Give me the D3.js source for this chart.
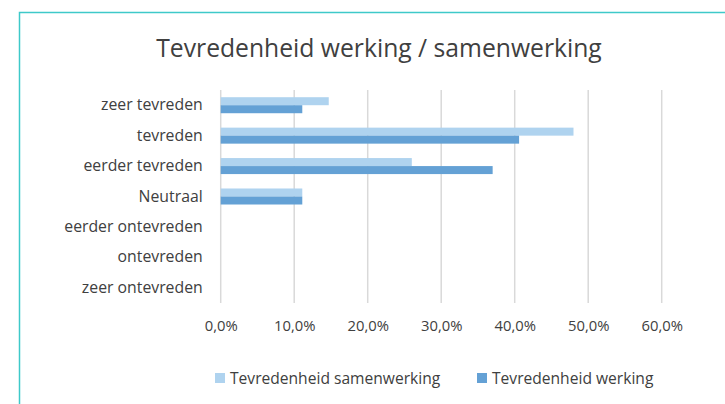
<!DOCTYPE html>
<html>
<head>
<meta charset="utf-8">
<script src="https://cdn.jsdelivr.net/npm/d3@7"></script>
<style>
  body { margin: 0; background: #fff; }
  text { font-family: "Open Sans", sans-serif; fill: #404040; }
</style>
</head>
<body>
<script>
// data
var categories = ["zeer tevreden", "tevreden", "eerder tevreden", "Neutraal",
                  "eerder ontevreden", "ontevreden", "zeer ontevreden"];
var samenwerking = [14.7, 48.0, 26.0, 11.1, 0, 0, 0];
var werking = [11.1, 40.6, 37.0, 11.1, 0, 0, 0];
var seriesNames = ["Tevredenheid samenwerking", "Tevredenheid werking"];
var colors = ["#afd3ef", "#64a1d5"];
var xTicks = [0, 10, 20, 30, 40, 50, 60];

var W = 725, H = 404;
var svg = d3.select("body").append("svg").attr("width", W).attr("height", H);

// frame
svg.append("rect")
  .attr("x", 19.5).attr("y", 12.5)
  .attr("width", 800).attr("height", 500)
  .attr("fill", "none").attr("stroke", "#3ec9c9").attr("stroke-width", 1.5);

svg.append("text")
  .attr("x", 379).attr("y", 57)
  .attr("text-anchor", "middle")
  .style("font-size", "24.7px")
  .text("Tevredenheid werking / samenwerking");

var x = d3.scaleLinear().domain([0, 60]).range([220.7, 661.7]);
var y = d3.scaleBand().domain(categories).range([90, 303]);
var inner = d3.scaleBand().domain([0, 1]).range([0, y.bandwidth()]).paddingInner(0).paddingOuter(0.9);

// gridlines
svg.append("g").selectAll("line")
  .data(xTicks)
  .enter().append("line")
  .attr("x1", function(d) { return x(d); })
  .attr("x2", function(d) { return x(d); })
  .attr("y1", 90).attr("y2", 303)
  .attr("stroke", "#d9d9d9").attr("stroke-width", 1.5);

var rows = categories.map(function(c, i) {
  return { cat: c, vals: [samenwerking[i], werking[i]] };
});

var grp = svg.append("g").selectAll("g")
  .data(rows)
  .enter().append("g")
  .attr("transform", function(d) { return "translate(0," + y(d.cat) + ")"; });

grp.selectAll("rect")
  .data(function(d) { return d.vals.map(function(v, k) { return { v: v, k: k }; }).filter(function(d) { return d.v > 0; }); })
  .enter().append("rect")
  .attr("x", x(0))
  .attr("y", function(d) { return inner(d.k); })
  .attr("height", inner.bandwidth())
  .attr("width", function(d) { return x(d.v) - x(0); })
  .attr("fill", function(d) { return colors[d.k]; });

// category labels
var yAxis = d3.axisLeft(y).tickSize(0).tickPadding(18);
var ya = svg.append("g").attr("transform", "translate(220.7,0)").call(yAxis);
ya.select(".domain").remove();
ya.selectAll("text").style("font-size", "15.8px").style("fill", "#404040").style("font-family", "Open Sans, sans-serif");

// x axis labels
var xAxis = d3.axisBottom(x).tickValues(xTicks).tickSize(0).tickPadding(0)
  .tickFormat(function(d) { return d3.format(".1f")(d).replace(".", ",") + "%"; });
var xa = svg.append("g").attr("transform", "translate(0,320)").call(xAxis);
xa.select(".domain").remove();
xa.selectAll("text").style("font-size", "14.8px").style("fill", "#404040").style("font-family", "Open Sans, sans-serif");

// legend
var legX = [215, 477];
var leg = svg.append("g").selectAll("g")
  .data(seriesNames)
  .enter().append("g")
  .attr("transform", function(d, i) { return "translate(" + legX[i] + ",373)"; });
leg.append("rect").attr("width", 10).attr("height", 10)
  .attr("fill", function(d, i) { return colors[i]; });
leg.append("text").attr("x", 15).attr("y", 10.5)
  .style("font-size", "15.6px")
  .text(function(d) { return d; });
</script>
</body>
</html>
